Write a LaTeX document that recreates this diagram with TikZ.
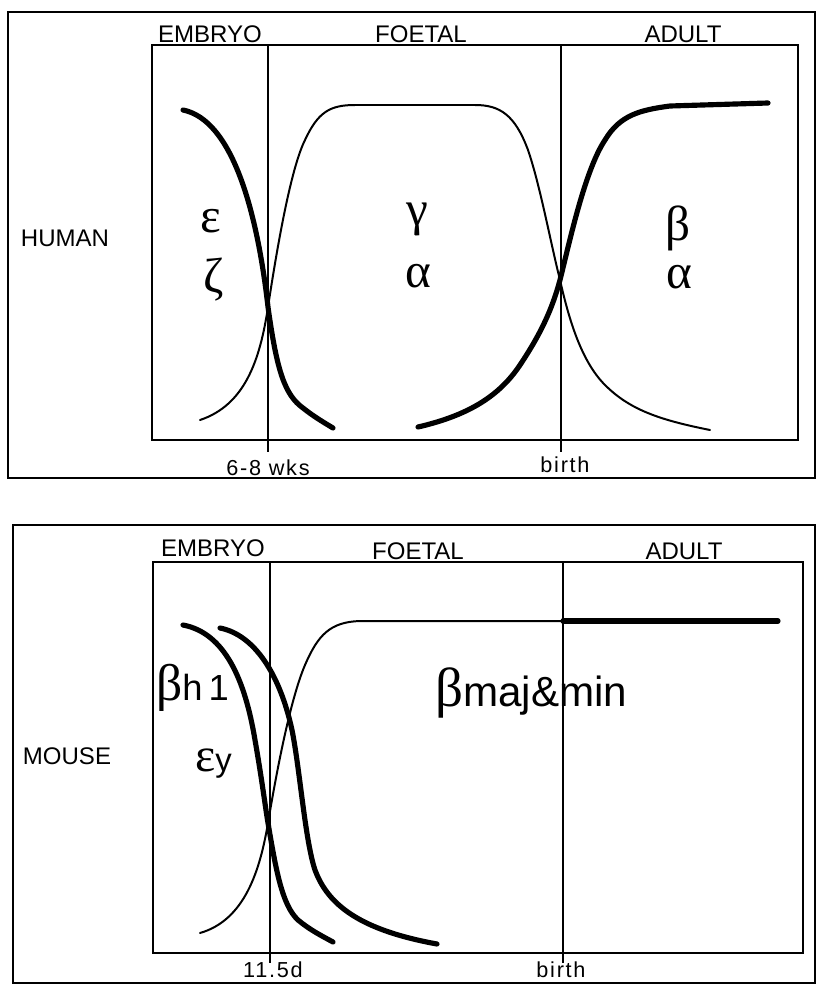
\documentclass[tikz,border=0pt]{standalone}
\usepackage{fontspec}
\setmainfont{Liberation Sans}
\newfontfamily\grkfont{Liberation Serif}
\usetikzlibrary{positioning}

\begin{document}
\begin{tikzpicture}[x=0.03cm,y=-0.03cm,
  frame/.style={line width=1.6pt},
  divider/.style={line width=1.2pt},
  thinc/.style={line width=1.7pt,line cap=round},
  thickc/.style={line width=4.4pt,line cap=round},
  stage/.style={font=\fontsize{20.5}{22}\selectfont,inner sep=0pt},
  tick/.style={font=\fontsize{18.5}{20}\selectfont\addfontfeature{LetterSpace=8},inner sep=0pt},
  gene/.style={font=\grkfont\fontsize{42}{44}\selectfont,inner sep=0pt,anchor=base}]
  \useasboundingbox (0,0) rectangle (816,984);
  % human
  \draw[frame] (8,12) rectangle (815,478);
  \draw[frame] (152,45) rectangle (798,440);
  \draw[divider] (268,45) -- (268,452);
  \draw[divider] (561,45) -- (561,452);
  \node[stage] (embryoH) at (210,34) {EMBRYO};
  \node[stage] (foetalH) at (421,34) {FOETAL};
  \node[stage] (adultH) at (683,34) {ADULT};
  \node[stage] (human) at (65,238) {HUMAN};
  \node[tick] (wks) at (268,468) {6-8 wks};
  \node[tick] (birthH) at (565,465) {birth};
  \node[gene] (eps) at (211,232) {ε};
  \node[gene] (zeta) at (214,292) {ζ};
  \node[gene] (gam) at (417,225) {γ};
  \node[gene] (alphaF) at (418,287) {α};
  \node[gene] (beta) at (678,240) {β};
  \node[gene] (alphaA) at (679,288) {α};
  \draw[thickc] (183,110) .. controls (232,120) and (257,210) .. (268,307)
    .. controls (277,372) and (285,395) .. (303,408) .. controls (313,416) and (323,422) .. (333,428);
  \draw[thinc] (200,420) .. controls (245,405) and (260,360) .. (268,307)
    .. controls (276,255) and (290,170) .. (305,140) .. controls (318,112) and (330,105) .. (355,105)
    -- (475,105) .. controls (500,105) and (515,115) .. (528,150)
    .. controls (540,185) and (550,240) .. (560,280) .. controls (568,315) and (580,360) .. (605,385)
    .. controls (630,410) and (660,420) .. (710,430);
  \draw[thickc] (418,427) .. controls (470,415) and (500,395) .. (520,365)
    .. controls (540,335) and (552,310) .. (560,280) .. controls (570,240) and (585,170) .. (605,140)
    .. controls (620,115) and (640,110) .. (670,106) -- (768,103);
  % mouse
  \draw[frame] (13,525) rectangle (815,983);
  \draw[frame] (153,562) rectangle (803,953);
  \draw[divider] (270,562) -- (270,963);
  \draw[divider] (563,562) -- (563,963);
  \node[stage] (embryoM) at (213,548) {EMBRYO};
  \node[stage] (foetalM) at (418,551) {FOETAL};
  \node[stage] (adultM) at (684,551) {ADULT};
  \node[stage] (mouse) at (67,756) {MOUSE};
  \node[tick,anchor=north] (day) at (273,962) {11.5d};
  \node[tick,anchor=north] (birthM) at (561,962) {birth};
  \node[inner sep=0pt,anchor=base west] (bh) at (156,700) {{\grkfont\fontsize{44}{46}\selectfont β}{\fontsize{31}{33}\selectfont h\,1}};
  \node[inner sep=0pt,anchor=base west] (ey) at (195,771) {{\grkfont\fontsize{41}{43}\selectfont ε}{\fontsize{28}{30}\selectfont y}};
  \node[inner sep=0pt,anchor=base west] (bmaj) at (435,706) {{\grkfont\fontsize{47}{49}\selectfont β}{\fontsize{36}{38}\selectfont maj\&min}};
  \draw[thickc] (183,625) .. controls (225,633) and (245,680) .. (255,740)
    .. controls (262,780) and (265,805) .. (268,823) .. controls (276,870) and (282,905) .. (298,920)
    .. controls (310,930) and (322,936) .. (333,942);
  \draw[thickc] (220,628) .. controls (255,635) and (280,675) .. (292,730)
    .. controls (300,770) and (305,840) .. (315,870) .. controls (328,905) and (360,930) .. (437,944);
  \draw[thinc] (200,933) .. controls (245,920) and (260,870) .. (268,823)
    .. controls (276,775) and (290,700) .. (305,665) .. controls (318,635) and (330,622) .. (360,621)
    -- (563,621);
  \draw[thickc] (563,621) -- (778,621);
\end{tikzpicture}
\end{document}
